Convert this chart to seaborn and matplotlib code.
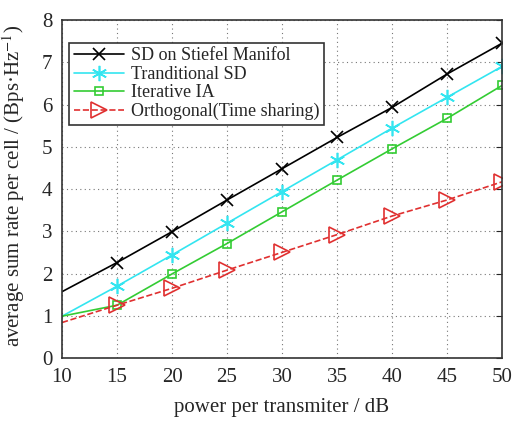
import matplotlib
matplotlib.use("Agg")
import matplotlib.pyplot as plt
import seaborn as sns
import pandas as pd

power = [10, 15, 20, 25, 30, 35, 40, 45, 50]
sd_stiefel = [1.57, 2.26, 2.99, 3.74, 4.48, 5.22, 5.93, 6.72, 7.45]
trad_sd = [0.99, 1.70, 2.44, 3.19, 3.94, 4.69, 5.44, 6.17, 6.90]
iter_ia = [0.99, 1.25, 1.99, 2.71, 3.46, 4.21, 4.95, 5.67, 6.45]
orthogonal = [0.84, 1.25, 1.65, 2.08, 2.50, 2.92, 3.36, 3.74, 4.17]
labels = ["SD on Stiefel Manifol", "Tranditional SD", "Iterative IA", "Orthogonal(Time sharing)"]
xticks = [10, 15, 20, 25, 30, 35, 40, 45, 50]
yticks = [0, 1, 2, 3, 4, 5, 6, 7, 8]

sns.set_style("white")
plt.rcParams['font.family'] = ['Liberation Serif', 'DejaVu Serif']
plt.rcParams['mathtext.fontset'] = 'stix'

df = pd.DataFrame({"power": power * 4,
                   "rate": sd_stiefel + trad_sd + iter_ia + orthogonal,
                   "series": sum([[l] * len(power) for l in labels], [])})

fig = plt.figure(figsize=(5.13, 4.21), dpi=100)
ax = fig.add_axes([0.1209, 0.1496, 0.8577, 0.8029])

colors = ["black", "#33e5f0", "#33cc33", "#e03030"]
markers = ["x", (6, 2, 0), "s", ">"]
styles = ["-", "-", "-", "--"]
msizes = [9, 11, 6, 12]
for lab, c, m, ls, ms in zip(labels, colors, markers, styles, msizes):
    sub = df[df["series"] == lab]
    sns.lineplot(data=sub, x="power", y="rate", ax=ax, color=c, linestyle=ls,
                 marker=m, markersize=ms, markerfacecolor="none", markeredgecolor=c,
                 markeredgewidth=1.2, linewidth=1.2, markevery=list(range(1, len(power))),
                 label=lab)

ax.set_xlim(10, 50)
ax.set_ylim(0, 8)
ax.set_xticks(xticks)
ax.set_yticks(yticks)
ax.tick_params(direction="in", labelsize=15, length=4, top=False, right=True, pad=7)
ax.grid(True, linestyle=(0, (1, 3)), color="#777777", linewidth=0.8)
for s in ax.spines.values():
    s.set_color("#333333")
    s.set_linewidth(1.2)
ax.set_xlabel("power per transmiter / dB", fontsize=15, labelpad=8)
ax.set_ylabel("average sum rate per cell / (Bps·Hz$^{-1}$)", fontsize=15)
ax.yaxis.set_label_coords(-0.08, 0.509)
leg = ax.legend(loc="upper left", bbox_to_anchor=(0.016, 0.932), borderaxespad=0,
                fontsize=13, fancybox=False, edgecolor="#333333", framealpha=1,
                handlelength=2.8, borderpad=0.25, labelspacing=0.08, handletextpad=0.4)
leg.get_frame().set_linewidth(1.2)
fig.savefig("out.png", dpi=100)
